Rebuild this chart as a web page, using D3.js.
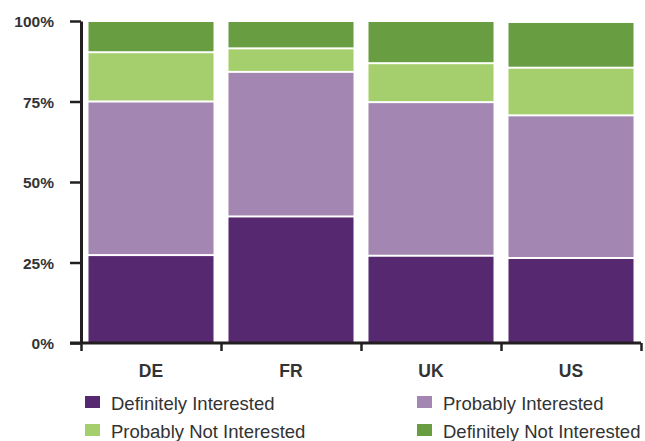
<!DOCTYPE html>
<html>
<head>
<meta charset="utf-8">
<script src="https://cdn.jsdelivr.net/npm/d3@7"></script>
<style>
  html, body { margin: 0; padding: 0; background: #fff; }
  svg { display: block; font-family: "Liberation Sans", Arial, sans-serif; }
</style>
</head>
<body>
<svg id="chart" width="645" height="441"></svg>
<script>
// ---- data ----
const categories = ["DE", "FR", "UK", "US"];
const seriesNames = ["Definitely Interested", "Probably Interested", "Probably Not Interested", "Definitely Not Interested"];
const definitelyInterested    = [27.3, 39.3, 27.1, 26.4];
const probablyInterested      = [47.7, 44.9, 47.7, 44.3];
const probablyNotInterested   = [15.3, 7.3, 12.1, 14.8];
const definitelyNotInterested = [9.7, 8.5, 13.1, 14.2];
const yTickValues = [0, 25, 50, 75, 100];
const colors = ["#55286f", "#a387b2", "#a5cf6c", "#689e41"];

// ---- build table ----
const seriesValues = [definitelyInterested, probablyInterested, probablyNotInterested, definitelyNotInterested];
const rows = categories.map((c, i) => {
  const r = { cat: c };
  seriesNames.forEach((s, j) => r[s] = seriesValues[j][i]);
  return r;
});
const stacked = d3.stack().keys(seriesNames)(rows);

const svg = d3.select("#chart");
const axisColor = "#231f20";

const y = d3.scaleLinear().domain([0, 100]).range([343, 21]);
const xEdges = d3.scaleLinear().domain([0, categories.length]).range([81, 641]);
const xBar = d3.scaleBand().domain(categories).range([81, 641]).paddingInner(0.107).paddingOuter(0.0535);
const xLabel = d3.scaleBand().domain(categories).range([81, 641]);
const color = d3.scaleOrdinal().domain(seriesNames).range(colors);

// ---- bars ----
const layer = svg.append("g").selectAll("g").data(stacked).join("g")
  .attr("fill", d => color(d.key));
layer.selectAll("rect").data(d => d).join("rect")
  .attr("x", d => xBar(d.data.cat))
  .attr("width", xBar.bandwidth())
  .attr("y", d => y(d[1]) + 1)
  .attr("height", d => Math.max(0, y(d[0]) - y(d[1]) - 2));

// ---- y axis ----
const yAxis = svg.append("g").attr("transform", "translate(81,0)")
  .call(d3.axisLeft(y).tickValues(yTickValues).tickSize(11).tickSizeOuter(0).tickPadding(16).tickFormat(d => d + "%"));
yAxis.select(".domain").attr("stroke", axisColor).attr("stroke-width", 3);
yAxis.selectAll(".tick line").attr("stroke", axisColor).attr("stroke-width", 2.5);
yAxis.selectAll(".tick text")
  .attr("fill", "#333").attr("font-size", "15.5px").attr("font-weight", "bold")
  .attr("font-family", "'Liberation Sans', Arial, sans-serif")
  .attr("x", -27).attr("dy", "0.36em");

// ---- x axis (boundary ticks) ----
const xAxis = svg.append("g").attr("transform", "translate(0,343)")
  .call(d3.axisBottom(xEdges).tickValues(d3.range(categories.length + 1)).tickSize(8).tickSizeOuter(0).tickFormat(""));
xAxis.select(".domain").attr("d", "M70,0H641").attr("stroke", axisColor).attr("stroke-width", 3);
xAxis.selectAll(".tick line").attr("stroke", axisColor).attr("stroke-width", 2.5);

// ---- category labels ----
const xLab = svg.append("g").attr("transform", "translate(0,343)")
  .call(d3.axisBottom(xLabel).tickSize(0));
xLab.select(".domain").remove();
xLab.selectAll(".tick text")
  .attr("y", 34).attr("dy", 0)
  .attr("fill", "#333").attr("font-size", "17.5px").attr("font-weight", "bold")
  .attr("font-family", "'Liberation Sans', Arial, sans-serif");

// ---- legend ----
const legendX = [85, 417];
const legendY = [396, 424];
const legend = svg.append("g").selectAll("g").data(seriesNames).join("g")
  .attr("transform", (d, i) => `translate(${legendX[i % 2]},${legendY[Math.floor(i / 2)]})`);
legend.append("rect").attr("width", 15).attr("height", 12).attr("fill", d => color(d));
legend.append("text").attr("x", 26).attr("y", 13.5)
  .attr("fill", "#333").attr("font-size", "18.5px").text(d => d);
</script>
</body>
</html>
